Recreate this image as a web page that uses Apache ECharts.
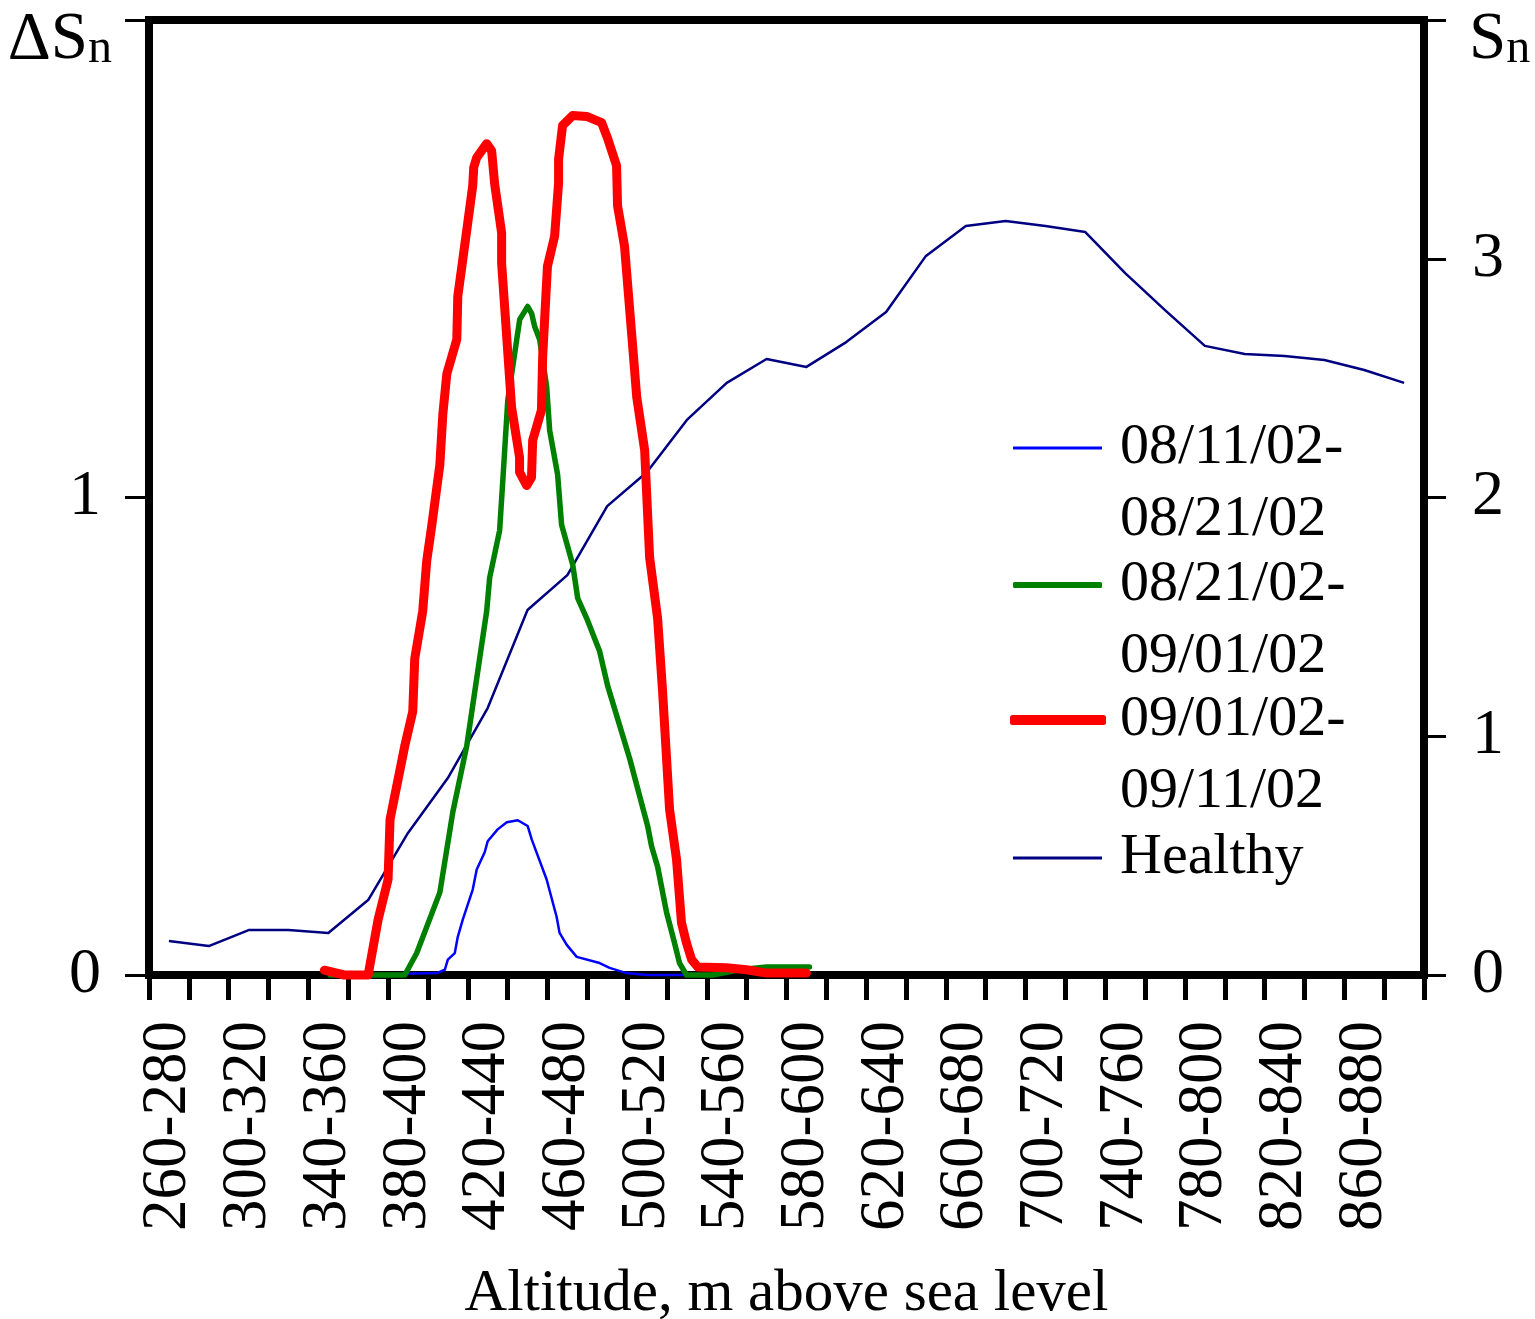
<!DOCTYPE html>
<html>
<head>
<meta charset="utf-8">
<script src="https://cdn.jsdelivr.net/npm/echarts@6/dist/echarts.min.js"></script>
<style>
  html, body { margin: 0; padding: 0; background: #fff; }
  #chart { width: 1535px; height: 1319px; }
</style>
</head>
<body>
<div id="chart"></div>
<script>
// altitude bands (bottom axis)
const categories = [
  '260-280', '280-300', '300-320', '320-340', '340-360', '360-380', '380-400', '400-420',
  '420-440', '440-460', '460-480', '480-500', '500-520', '520-540', '540-560', '560-580',
  '580-600', '600-620', '620-640', '640-660', '660-680', '680-700', '700-720', '720-740',
  '740-760', '760-780', '780-800', '800-820', '820-840', '840-860', '860-880', '880-900'
];

// Sn of healthy vegetation (right axis), one value per band
const healthy = [
  0.142, 0.121, 0.188, 0.188, 0.176, 0.314, 0.595, 0.825, 1.118, 1.529, 1.675, 1.964,
  2.107, 2.325, 2.480, 2.580, 2.547, 2.651, 2.777, 3.012, 3.137, 3.158, 3.137, 3.112,
  2.940, 2.785, 2.635, 2.601, 2.593, 2.576, 2.534, 2.480
];

// ΔSn, 08/11/02-08/21/02
const alt0811 = [361, 404.5, 408.5, 410, 413.5, 415, 417.5, 422.5, 424.5, 428.5, 430, 435, 439.6,
  445.1, 450.1, 452.1, 459.6, 464.6, 466.1, 469.7, 474.7, 486.2, 491.2, 499.7, 509.8, 536.4];
const ds0811 = [0, 0.004, 0.011, 0.032, 0.046, 0.08, 0.116, 0.179, 0.221, 0.257, 0.28, 0.305, 0.32,
  0.324, 0.312, 0.284, 0.2, 0.122, 0.088, 0.063, 0.038, 0.025, 0.015, 0.004, 0, 0];

// ΔSn, 08/21/02-09/01/02
const alt0821 = [351, 388.4, 394.4, 406, 412.5, 419.5, 424.5, 429.5, 431, 436, 437.6, 440.1, 444.6,
  446.1, 450.1, 452.1, 453.6, 456.1, 459.6, 461.1, 465.1, 467.1, 472.7, 475.2, 479.7, 486.2, 490.2,
  501.3, 510.3, 512.3, 515.3, 519.8, 523.8, 526.3, 529.8, 542.9, 556.4, 570, 591.5];
const ds0821 = [0, 0, 0.046, 0.173, 0.341, 0.48, 0.621, 0.762, 0.832, 0.931, 1.036, 1.204, 1.331,
  1.373, 1.4, 1.385, 1.358, 1.331, 1.232, 1.141, 1.048, 0.943, 0.859, 0.789, 0.747, 0.678, 0.606,
  0.453, 0.312, 0.269, 0.227, 0.131, 0.067, 0.025, 0, 0, 0.011, 0.017, 0.017];

// ΔSn, 09/01/02-09/11/02
const alt0901 = [348, 358, 370, 375, 380, 381, 388.4, 392.4, 393.4, 397.4, 399.4, 402, 406, 407.5,
  409.5, 414.5, 415, 420, 422.5, 423, 424.5, 429.5, 432, 433.5, 437, 437, 442, 446, 446, 449.6, 452,
  452.6, 457, 457.6, 460, 463.6, 465.6, 465.6, 467.6, 472.7, 479.7, 487.2, 490.2, 494.7, 495.2, 498.7,
  502.8, 504.8, 508.8, 511.3, 515.3, 517.8, 521.3, 524.8, 527.3, 529.8, 532.4, 535.4, 549.9, 559.9,
  570, 590];
const ds0901 = [0.01, 0, 0, 0.116, 0.2, 0.326, 0.48, 0.552, 0.663, 0.762, 0.867, 0.943, 1.069, 1.175,
  1.259, 1.331, 1.421, 1.575, 1.653, 1.691, 1.712, 1.741, 1.726, 1.657, 1.554, 1.491, 1.189, 1.084,
  1.053, 1.025, 1.042, 1.12, 1.183, 1.295, 1.484, 1.547, 1.659, 1.709, 1.779, 1.8, 1.798, 1.785,
  1.752, 1.695, 1.611, 1.526, 1.316, 1.211, 1.099, 0.874, 0.747, 0.594, 0.347, 0.242, 0.109, 0.067,
  0.032, 0.017, 0.015, 0.011, 0.004, 0.004];

const names = ['08/11/02-\n08/21/02', '08/21/02-\n09/01/02', '09/01/02-\n09/11/02', 'Healthy'];

const FONT = 'Liberation Serif';
const zip = (xs, ys) => xs.map((x, i) => [x, ys[i]]);

const axisLineStyle = { color: '#000', width: 8, cap: 'square' };

const legendText = { fontFamily: FONT, fontSize: 58, color: '#000', lineHeight: 72, padding: [0, 0, 0, 13] };

// two-line legend entries: a blank leading line puts the icon beside the first line
const legendItem = (name, top, extra) => Object.assign({
  data: [name],
  orient: 'vertical',
  left: 1013,
  top: top,
  padding: 0,
  selectedMode: false,
  itemWidth: 89,
  icon: 'rect',
  itemHeight: 3,
  itemStyle: { borderWidth: 0 },
  textStyle: legendText,
  formatter: (n) => (n.indexOf('\n') >= 0 ? '\n' + n : n)
}, extra);

const chart = echarts.init(document.getElementById('chart'));

const option = {
  animation: false,
  backgroundColor: '#fff',
  grid: { left: 149, right: 111, top: 20, bottom: 344, outerBoundsMode: 'none', containLabel: false },
  legend: [
    legendItem(names[0], 340),
    legendItem(names[1], 477, { icon: 'roundRect', itemHeight: 6 }),
    legendItem(names[2], 612, {
      left: 1010, itemWidth: 96, icon: 'roundRect', itemHeight: 10,
      textStyle: Object.assign({}, legendText, { padding: [0, 0, 0, 9] })
    }),
    legendItem(names[3], 822)
  ],
  xAxis: [
    {
      type: 'category',
      data: categories,
      position: 'bottom',
      axisLine: { onZero: false, lineStyle: axisLineStyle },
      axisTick: { show: true, interval: 0, length: 25, lineStyle: { color: '#000', width: 5 } },
      axisLabel: {
        interval: 1, rotate: 90, margin: 46,
        fontFamily: FONT, fontSize: 63, color: '#000'
      },
      splitLine: { show: false },
      name: 'Altitude, m above sea level',
      nameLocation: 'middle',
      nameGap: 290,
      nameTextStyle: { fontFamily: FONT, fontSize: 59, color: '#000' }
    },
    {
      // hidden value scale for the 10-day difference curves, drawn as the top frame
      type: 'value',
      min: 260,
      max: 900,
      position: 'top',
      axisLine: { show: true, onZero: false, lineStyle: axisLineStyle },
      axisTick: { show: false },
      axisLabel: { show: false },
      splitLine: { show: false }
    }
  ],
  yAxis: [
    {
      type: 'value',
      min: 0,
      max: 2,
      interval: 1,
      position: 'left',
      axisLine: { show: true, onZero: false, lineStyle: axisLineStyle },
      axisTick: { show: true, length: 24, lineStyle: { color: '#000', width: 3 } },
      axisLabel: {
        margin: 48, fontFamily: FONT, fontSize: 64, color: '#000',
        formatter: (v) => (v === 2 ? '' : String(v))
      },
      splitLine: { show: false },
      name: '{m|ΔS}{s|n}',
      nameLocation: 'end',
      nameGap: -54,
      nameTextStyle: {
        align: 'right', verticalAlign: 'bottom', padding: [0, 37, 0, 0], color: '#000',
        rich: {
          m: { fontFamily: FONT, fontSize: 67, color: '#000' },
          s: { fontFamily: FONT, fontSize: 48, color: '#000', padding: [18, 0, 0, 0] }
        }
      }
    },
    {
      type: 'value',
      min: 0,
      max: 4,
      interval: 1,
      position: 'right',
      axisLine: { show: true, onZero: false, lineStyle: axisLineStyle },
      axisTick: { show: true, length: 22, lineStyle: { color: '#000', width: 3 } },
      axisLabel: {
        margin: 48, fontFamily: FONT, fontSize: 64, color: '#000',
        formatter: (v) => (v === 4 ? '' : String(v))
      },
      splitLine: { show: false },
      name: '{m|S}{s|n}',
      nameLocation: 'end',
      nameGap: -54,
      nameTextStyle: {
        align: 'left', verticalAlign: 'bottom', padding: [0, 0, 0, 45], color: '#000',
        rich: {
          m: { fontFamily: FONT, fontSize: 67, color: '#000' },
          s: { fontFamily: FONT, fontSize: 48, color: '#000', padding: [18, 0, 0, 0] }
        }
      }
    }
  ],
  series: [
    {
      name: names[3], type: 'line', xAxisIndex: 0, yAxisIndex: 1,
      data: healthy, symbol: 'none', clip: false, z: 2,
      itemStyle: { color: '#000080' },
      lineStyle: { color: '#000080', width: 2.5, join: 'round' }
    },
    {
      name: names[0], type: 'line', xAxisIndex: 1, yAxisIndex: 0,
      data: zip(alt0811, ds0811), symbol: 'none', clip: false, z: 3,
      itemStyle: { color: '#0000FF' },
      lineStyle: { color: '#0000FF', width: 2.5, join: 'round' }
    },
    {
      name: names[1], type: 'line', xAxisIndex: 1, yAxisIndex: 0,
      data: zip(alt0821, ds0821), symbol: 'none', clip: false, z: 4,
      itemStyle: { color: '#008000' },
      lineStyle: { color: '#008000', width: 5.5, join: 'round', cap: 'round' }
    },
    {
      name: names[2], type: 'line', xAxisIndex: 1, yAxisIndex: 0,
      data: zip(alt0901, ds0901), symbol: 'none', clip: false, z: 5,
      itemStyle: { color: '#FF0000' },
      lineStyle: { color: '#FF0000', width: 9, join: 'round', cap: 'round' }
    }
  ]
};

chart.setOption(option);

window.addEventListener('resize', () => {
  chart.resize();
});
</script>
</body>
</html>
